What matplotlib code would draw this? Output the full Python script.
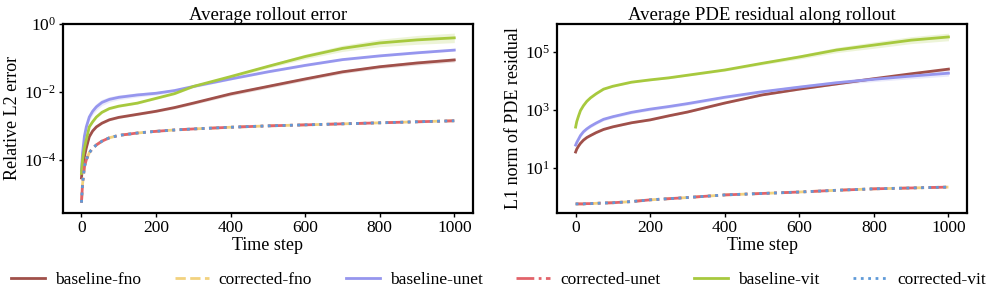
import numpy as np
import matplotlib
matplotlib.use("Agg")
import matplotlib.pyplot as plt
from matplotlib.ticker import FixedLocator, NullLocator, LogFormatterMathtext

plt.rcParams['font.family'] = ['Liberation Serif', 'DejaVu Serif']
plt.rcParams['mathtext.fontset'] = 'stix'

# Time steps at which values were read
t = [0, 3, 8, 13, 21, 30, 40, 55, 75, 100, 150, 200, 250, 300, 400, 500, 600, 700, 800, 900, 1000]

# Left panel: log10 of relative L2 error
err_fno = [-4.53, -4.2, -3.9, -3.65, -3.32, -3.15, -3.03, -2.92, -2.82, -2.75, -2.66, -2.57, -2.46, -2.33, -2.06, -1.84, -1.62, -1.41, -1.26, -1.15, -1.06]
err_unet = [-4.3, -3.8, -3.3, -3.03, -2.74, -2.57, -2.44, -2.31, -2.22, -2.16, -2.09, -2.04, -1.96, -1.84, -1.62, -1.41, -1.22, -1.05, -0.94, -0.85, -0.77]
err_vit = [-4.4, -4.0, -3.65, -3.41, -3.03, -2.88, -2.74, -2.60, -2.49, -2.42, -2.33, -2.19, -2.05, -1.84, -1.55, -1.25, -0.96, -0.72, -0.56, -0.47, -0.41]
err_corr = [-5.26, -4.7, -4.2, -4.0, -3.79, -3.66, -3.56, -3.45, -3.35, -3.28, -3.21, -3.16, -3.12, -3.09, -3.04, -3.00, -2.97, -2.94, -2.91, -2.88, -2.85]

# Left panel band half-widths (decades)
band_err_fno = [0.02, 0.03, 0.03, 0.03, 0.03, 0.03, 0.03, 0.03, 0.03, 0.03, 0.03, 0.03, 0.04, 0.04, 0.05, 0.05, 0.05, 0.05, 0.05, 0.06, 0.06]
band_err_unet = [0.05, 0.08, 0.09, 0.10, 0.10, 0.10, 0.10, 0.09, 0.08, 0.07, 0.06, 0.05, 0.04, 0.04, 0.03, 0.03, 0.03, 0.03, 0.03, 0.03, 0.03]
band_err_vit = [0.02, 0.03, 0.03, 0.03, 0.03, 0.03, 0.03, 0.03, 0.03, 0.03, 0.03, 0.03, 0.03, 0.03, 0.04, 0.05, 0.07, 0.09, 0.11, 0.13, 0.14]

# Right panel: log10 of L1 norm of PDE residual
res_fno = [1.55, 1.65, 1.76, 1.85, 1.96, 2.05, 2.12, 2.22, 2.33, 2.42, 2.56, 2.66, 2.80, 2.93, 3.24, 3.52, 3.72, 3.90, 4.08, 4.25, 4.41]
res_unet = [1.79, 1.88, 2.00, 2.12, 2.25, 2.35, 2.44, 2.55, 2.68, 2.77, 2.92, 3.03, 3.12, 3.22, 3.44, 3.63, 3.79, 3.94, 4.06, 4.17, 4.27]
res_vit = [2.41, 2.60, 2.80, 2.98, 3.15, 3.30, 3.42, 3.56, 3.72, 3.82, 3.96, 4.04, 4.11, 4.20, 4.38, 4.61, 4.83, 5.07, 5.24, 5.41, 5.52]
res_corr = [-0.24, -0.24, -0.24, -0.24, -0.24, -0.23, -0.23, -0.22, -0.21, -0.20, -0.16, -0.10, -0.06, -0.02, 0.07, 0.12, 0.17, 0.23, 0.28, 0.31, 0.34]

band_res_fno = [0.03] * 21
band_res_unet = [0.05, 0.05, 0.05, 0.05, 0.05, 0.05, 0.05, 0.05, 0.05, 0.05, 0.05, 0.05, 0.05, 0.05, 0.05, 0.05, 0.06, 0.07, 0.08, 0.09, 0.10]
band_res_vit = [0.03, 0.03, 0.03, 0.03, 0.03, 0.03, 0.03, 0.03, 0.03, 0.03, 0.03, 0.03, 0.03, 0.03, 0.04, 0.05, 0.07, 0.09, 0.11, 0.12, 0.13]

labels = ['baseline-fno', 'corrected-fno', 'baseline-unet', 'corrected-unet', 'baseline-vit', 'corrected-vit']
c_fno = '#a0504a'
c_cfno = '#f2d27e'
c_unet = '#9696ee'
c_cunet = '#e2636a'
c_vit = '#a7c93e'
c_cvit = '#5f9ad8'

fig, axes = plt.subplots(1, 2, figsize=(9.97, 2.99), dpi=100)
fig.subplots_adjust(left=0.063, right=0.970, top=0.92, bottom=0.288, wspace=0.205)

def draw(ax, fno, unet, vit, corr, bfno, bunet, bvit):
    x = np.array(t)
    for vals, band, col in [(fno, bfno, c_fno), (unet, bunet, c_unet), (vit, bvit, c_vit)]:
        v = np.array(vals); b = np.array(band)
        ax.fill_between(x, 10 ** (v - b), 10 ** (v + b), color=col, alpha=0.2, lw=0)
    c = 10 ** np.array(corr)
    h1, = ax.plot(x, 10 ** np.array(fno), color=c_fno, lw=2.0, label=labels[0])
    h3, = ax.plot(x, 10 ** np.array(unet), color=c_unet, lw=2.0, label=labels[2])
    h5, = ax.plot(x, 10 ** np.array(vit), color=c_vit, lw=2.0, label=labels[4])
    h2, = ax.plot(x, c, color=c_cfno, lw=2.0, ls='--', label=labels[1])
    h4, = ax.plot(x, c, color=c_cunet, lw=2.0, ls='-.', label=labels[3])
    h6, = ax.plot(x, c, color=c_cvit, lw=2.0, ls=':', label=labels[5])
    ax.set_yscale('log')
    ax.set_xlim(-50, 1050)
    ax.set_xticks([0, 200, 400, 600, 800, 1000])
    ax.set_xlabel('Time step', fontsize=13, labelpad=1)
    for s in ax.spines.values():
        s.set_linewidth(1.6)
    ax.tick_params(labelsize=12.5, length=3, width=1, pad=2)
    ax.yaxis.set_minor_locator(NullLocator())
    return [h1, h2, h3, h4, h5, h6]

ax = axes[0]
hs = draw(ax, err_fno, err_unet, err_vit, err_corr, band_err_fno, band_err_unet, band_err_vit)
ax.set_ylim(10 ** -5.56, 1)
ax.yaxis.set_major_locator(FixedLocator([1e-4, 1e-2, 1e0]))
ax.yaxis.set_major_formatter(LogFormatterMathtext())
ax.set_ylabel('Relative L2 error', fontsize=13, labelpad=2)
ax.set_title('Average rollout error', fontsize=13.5, pad=3)

ax = axes[1]
draw(ax, res_fno, res_unet, res_vit, res_corr, band_res_fno, band_res_unet, band_res_vit)
ax.set_ylim(10 ** -0.55, 10 ** 5.97)
ax.yaxis.set_major_locator(FixedLocator([1e1, 1e3, 1e5]))
ax.yaxis.set_major_formatter(LogFormatterMathtext())
ax.set_ylabel('L1 norm of PDE residual', fontsize=13, labelpad=2)
ax.set_title('Average PDE residual along rollout', fontsize=13.5, pad=3)

fig.legend(hs, labels, loc='center', bbox_to_anchor=(0.5, 0.065), ncol=6, frameon=False,
           fontsize=12.5, handlelength=1.95, columnspacing=1.95, handletextpad=0.57)

fig.savefig('out.png', dpi=100)
